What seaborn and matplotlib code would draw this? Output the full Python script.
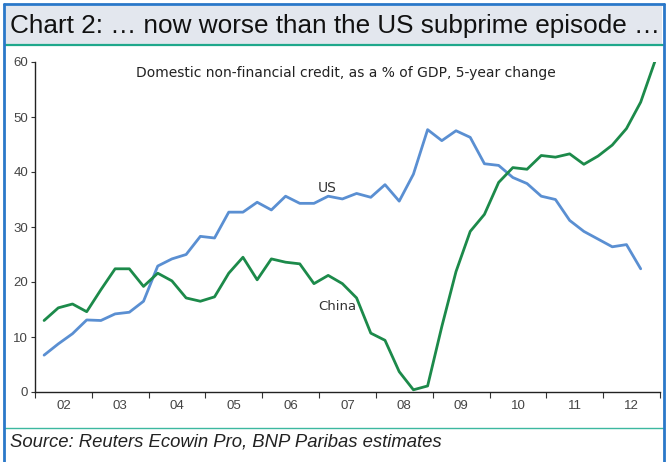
import matplotlib
matplotlib.use("Agg")
import matplotlib.pyplot as plt
import seaborn as sns
import pandas as pd
import numpy as np
from matplotlib.patches import Rectangle
from matplotlib.lines import Line2D

# ---- data (quarterly, 5-year change in credit/GDP, pp) ----
start_year = 2002.16
us = [6.7, 8.75, 10.6, 13.1, 13.0, 14.2, 14.5, 16.5, 22.9, 24.2, 25.0, 28.3, 28.0,
      32.7, 32.7, 34.5, 33.1, 35.6, 34.3, 34.3, 35.6, 35.1, 36.1, 35.4, 37.7, 34.7,
      39.6, 47.7, 45.7, 47.5, 46.3, 41.5, 41.2, 39.0, 37.9, 35.6, 35.0, 31.2, 29.2,
      27.8, 26.4, 26.8, 22.4]
china = [13.0, 15.3, 16.0, 14.6, 18.6, 22.4, 22.4, 19.2, 21.6, 20.2, 17.1, 16.5, 17.3,
         21.6, 24.5, 20.4, 24.2, 23.6, 23.3, 19.7, 21.2, 19.7, 17.1, 10.7, 9.4, 3.7,
         0.4, 1.1, 11.9, 21.9, 29.2, 32.3, 38.1, 40.8, 40.5, 43.0, 42.7, 43.3, 41.4,
         42.9, 44.9, 47.9, 52.7, 60.1]
year_labels = ["02", "03", "04", "05", "06", "07", "08", "09", "10", "11", "12"]
y_ticks = [0, 10, 20, 30, 40, 50, 60]

rows = []
for i, v in enumerate(us):
    rows.append({"t": start_year + 0.25 * i, "value": v, "series": "US"})
for i, v in enumerate(china):
    rows.append({"t": start_year + 0.25 * i, "value": v, "series": "China"})
df = pd.DataFrame(rows)

sns.set_theme(style="white")
plt.rcParams["font.family"] = ["Liberation Sans", "DejaVu Sans"]

W, H = 672, 462
fig = plt.figure(figsize=(W / 100, H / 100), dpi=100)
fig.patch.set_facecolor("white")

def fx(px):
    return px / W
def fy(py):
    return 1 - py / H

# title band
fig.patches.append(Rectangle((fx(5), fy(44)), fx(662) - fx(5), fy(6) - fy(44),
                             transform=fig.transFigure, facecolor="#e3e7ee",
                             edgecolor="none", zorder=0))
# teal lines
fig.lines.append(Line2D([fx(5), fx(663)], [fy(45), fy(45)], transform=fig.transFigure,
                        color="#1fa88c", lw=1.6))
fig.lines.append(Line2D([fx(5), fx(663)], [fy(428), fy(428)], transform=fig.transFigure,
                        color="#3cb8a0", lw=1.0))
# outer blue border
bc = "#2a78c9"
fig.lines.append(Line2D([fx(4), fx(4)], [fy(462), fy(4)], transform=fig.transFigure, color=bc, lw=2.0))
fig.lines.append(Line2D([fx(4), fx(664)], [fy(4), fy(4)], transform=fig.transFigure, color=bc, lw=2.0))
fig.lines.append(Line2D([fx(664), fx(664)], [fy(4), fy(462)], transform=fig.transFigure, color=bc, lw=2.0))

fig.text(fx(10), fy(26), "Chart 2: \u2026 now worse than the US subprime episode \u2026",
         fontsize=18.8, color="#111111", va="center", ha="left")
fig.text(fx(10), fy(442), "Source: Reuters Ecowin Pro, BNP Paribas estimates",
         fontsize=13.3, style="italic", color="#222222", va="center", ha="left")

ax = fig.add_axes([fx(35), fy(392), fx(660) - fx(35), fy(62) - fy(392)])
ax.set_facecolor("white")
sns.lineplot(data=df, x="t", y="value", hue="series",
             palette={"US": "#5a8fd2", "China": "#1c8a4a"},
             linewidth=2.0, ax=ax, legend=False)

ax.set_xlim(2002, 2013)
ax.set_ylim(0, 60)
ax.set_xlabel("")
ax.set_ylabel("")
ax.set_yticks(y_ticks)
ax.set_yticklabels([str(v) for v in y_ticks])
ax.set_xticks(np.arange(2002, 2014))
ax.set_xticklabels([""] * 12)
ax.set_xticks(np.arange(2002.5, 2013.0, 1.0), minor=True)
ax.set_xticklabels(year_labels, minor=True)
ax.tick_params(axis="x", which="major", direction="out", length=4, width=0.8, color="#333333", bottom=True)
ax.tick_params(axis="x", which="minor", length=0, labelsize=9.5, labelcolor="#444444", pad=6, bottom=True)
ax.tick_params(axis="y", which="major", direction="out", length=3, width=0.8, color="#333333",
               labelsize=9.5, labelcolor="#444444", pad=2, left=True)
for s in ["top", "right"]:
    ax.spines[s].set_visible(False)
for s in ["left", "bottom"]:
    ax.spines[s].set_color("#222222")
    ax.spines[s].set_linewidth(1.0)

ax.text(2007.15, 37.0, "US", fontsize=10, color="#333333", ha="center", va="center",
        family=["DejaVu Sans"])
ax.text(2007.32, 15.6, "China", fontsize=9.5, color="#333333", ha="center", va="center",
        family=["DejaVu Sans"])
ax.text(2007.47, 58.0, "Domestic non-financial credit, as a % of GDP, 5-year change",
        fontsize=10.0, color="#222222", ha="center", va="center", family=["DejaVu Sans"])

fig.savefig("out.png", dpi=100)
